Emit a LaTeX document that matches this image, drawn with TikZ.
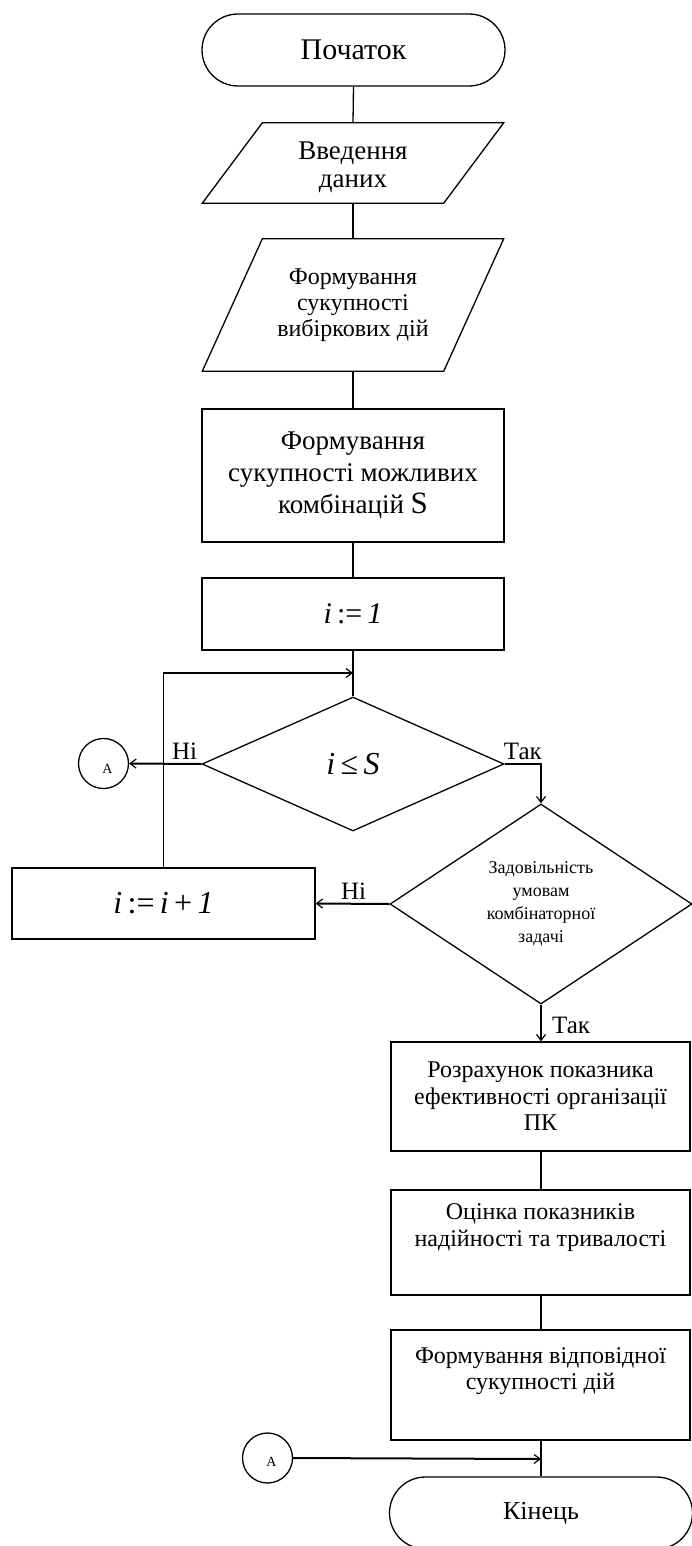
\documentclass[tikz,border=0pt]{standalone}
\usepackage{fontspec}
\setmainfont{Liberation Serif}
\usetikzlibrary{shapes.geometric,arrows.meta}

\newcommand{\fs}[2]{\fontsize{#1pt}{#2pt}\selectfont}
% centred lines, drawn lower by a given amount while keeping their layout size
\newcommand{\lowered}[2]{\raisebox{-#1}[\height][\depth]{\begin{tabular}{@{}c@{}}#2\end{tabular}}}

\begin{document}
\begin{tikzpicture}[x=1pt,y=-1pt,
  shapeline/.style={line width=1.3pt},
  procbox/.style={draw, shapeline, rectangle, inner sep=0pt, align=center},
  termbox/.style={draw, shapeline, rectangle, rounded corners=36pt, inner sep=0pt,
    minimum width=303pt, minimum height=72pt, align=center},
  iobox/.style={rectangle, inner sep=0pt, align=center, minimum width=241pt},
  decision/.style={draw, shapeline, diamond, inner sep=0pt, align=center},
  connector/.style={draw, shapeline, circle, minimum size=50pt, inner sep=0pt},
  flow/.style={line width=1.3pt},
  arrow/.style={flow, -{Straight Barb[length=6pt,width=9pt,line width=1.2pt]}},
  thickarrow/.style={line width=2pt, -{Straight Barb[length=6pt,width=9pt,line width=1.2pt]}},
  lbl/.style={font=\fs{25}{27}, inner sep=0pt},
]
\useasboundingbox (0,0) rectangle (691,1546);

% ---------- main column ----------
\node[termbox, font=\fs{30}{32}] (start) at (353.5,50) {\lowered{3pt}{Початок}};

\node[iobox, minimum height=80pt, font=\fs{27}{28}] (in1) at (353,163)
  {\lowered{5pt}{Введення\\даних}};
\draw[shapeline] ([xshift=30pt]in1.north west) -- ([xshift=30pt]in1.north east)
  -- ([xshift=-30pt]in1.south east) -- ([xshift=-30pt]in1.south west) -- cycle;

\node[iobox, minimum height=132pt, font=\fs{24}{25.7}] (in2) at (353,305)
  {Формування\\сукупності\\вибіркових дій};
\draw[shapeline] ([xshift=30pt]in2.north west) -- ([xshift=30pt]in2.north east)
  -- ([xshift=-30pt]in2.south east) -- ([xshift=-30pt]in2.south west) -- cycle;

\node[procbox, minimum width=302pt, minimum height=133pt, font=\fs{27}{32}] (comb) at (353,475.5)
  {Формування\\сукупності можливих\\комбінацій {\fs{31}{32}S}};

\node[procbox, minimum width=302pt, minimum height=72pt, font=\fs{30}{32}] (init) at (353,614)
  {\textit{i}\,:=\,\textit{1}};

\node[decision, minimum width=302pt, minimum height=134pt, font=\fs{32}{34}] (cond) at (353,764)
  {\textit{i}\,≤\,\textit{S}};

\coordinate (join) at (353,673);

\node[connector] (A1) at (103.5,763.5) {};
\node[font=\fs{14}{16}, inner sep=0pt] (A1t) at ([shift={(4pt,-5pt)}]A1.center) {A};

\node[procbox, minimum width=303pt, minimum height=71pt, font=\fs{32}{34}] (inc) at (163.5,903.5)
  {\textit{i}\,:=\,\textit{i}\,+\,\textit{1}};

% ---------- right column ----------
\node[decision, minimum width=302pt, minimum height=200pt, font=\fs{18}{23}] (check) at (541,904)
  {Задовільність\\умовам\\комбінаторної\\задачі};

\node[procbox, minimum width=299pt, minimum height=109pt, font=\fs{24}{26.5}] (calc) at (540.5,1096.5)
  {Розрахунок показника\\ефективності організації\\ПК};

\node[procbox, minimum width=299pt, minimum height=105pt, font=\fs{24}{27}] (eval) at (540.5,1242.5)
  {Оцінка показників\\надійності та тривалості\\\strut};

\node[procbox, minimum width=299pt, minimum height=110pt, font=\fs{24}{25.5}] (form) at (540.5,1385)
  {Формування відповідної\\сукупності дій\\\strut};

\node[termbox, font=\fs{26}{28}] (stop) at (541,1513) {Кінець};

\node[connector] (A2) at (267.5,1458) {};
\node[font=\fs{14}{16}, inner sep=0pt] (A2t) at ([shift={(4pt,-4pt)}]A2.center) {A};

\coordinate (merge) at (541,1459);

% ---------- connectors ----------
\draw[flow] (start.south) -- (in1.north);
\draw[flow] (in1.south) -- (in2.north);
\draw[flow] (in2.south) -- (comb.north);
\draw[flow] (comb.south) -- (init.north);
\draw[flow] (init.south) -- (cond.north);
\draw[arrow, line width=1.6pt] (inc.north) |- (join);

\draw[thickarrow] (cond.west) -- (A1.east);
\node[lbl, anchor=base east] (no1) at ([shift={(-4pt,5pt)}]cond.west) {Ні};

\draw[arrow] (cond.east) -| (check.north);
\node[lbl, anchor=base west] (yes1) at ([shift={(-1pt,5pt)}]cond.east) {Так};

\draw[thickarrow] (check.west) -- (inc.east);
\node[lbl, anchor=base east] (no2) at ([shift={(-23pt,5pt)}]check.west) {Ні};

\draw[arrow, line width=1.6pt] (check.south) -- (calc.north -| check.south);
\node[lbl, anchor=base west] (yes2) at ([shift={(11pt,-29pt)}]check.south) {Так};

\draw[flow] (calc.south -| stop.north) -- (eval.north -| stop.north);
\draw[flow] (eval.south -| stop.north) -- (form.north -| stop.north);
\draw[flow] (form.south -| stop.north) -- (stop.north);
\draw[thickarrow] (A2.east) -- (merge);

\end{tikzpicture}
\end{document}
